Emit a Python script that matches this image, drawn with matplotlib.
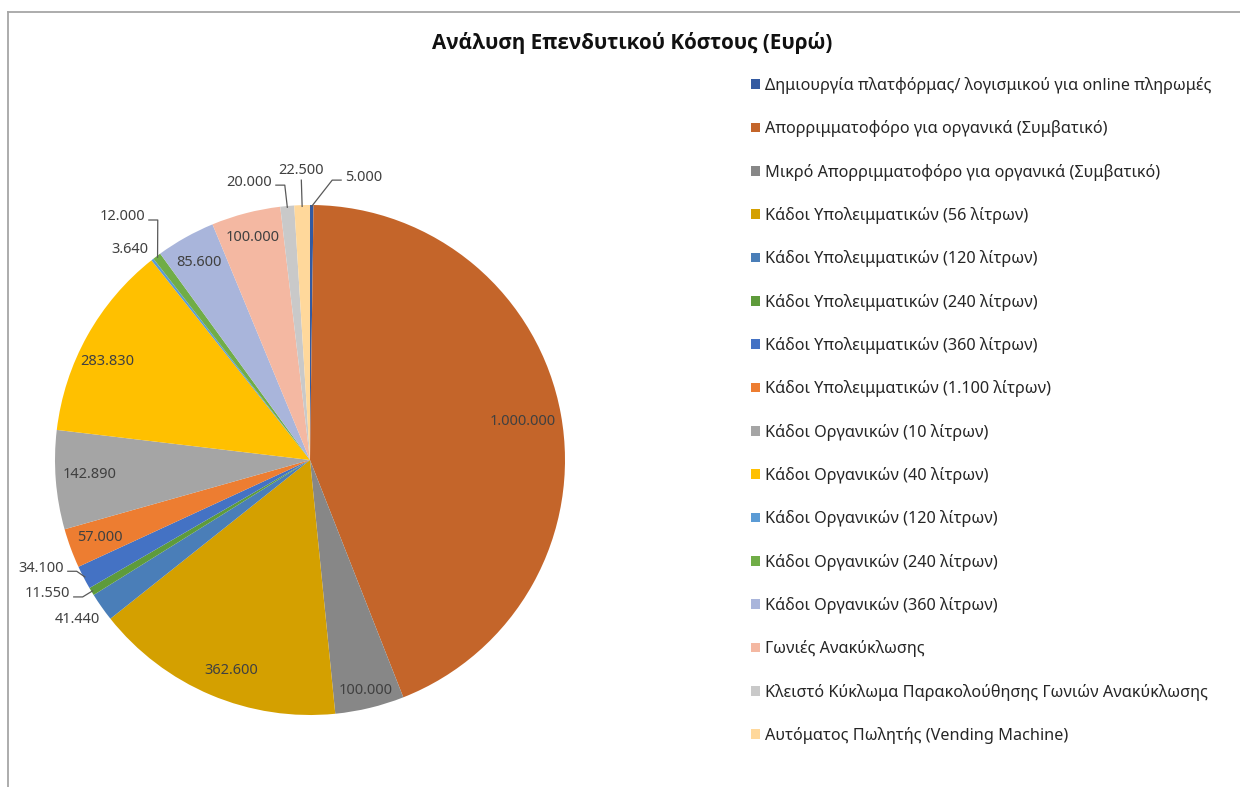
import matplotlib
matplotlib.use('Agg')
import matplotlib.pyplot as plt
import numpy as np
from matplotlib.lines import Line2D

plt.rcParams['font.family'] = ['Noto Sans', 'DejaVu Sans']

title = 'Ανάλυση Επενδυτικού Κόστους (Ευρώ)'

categories = [
    'Δημιουργία πλατφόρμας/ λογισμικού για online πληρωμές',
    'Απορριμματοφόρο για οργανικά (Συμβατικό)',
    'Μικρό Απορριμματοφόρο για οργανικά (Συμβατικό)',
    'Κάδοι Υπολειμματικών (56 λίτρων)',
    'Κάδοι Υπολειμματικών (120 λίτρων)',
    'Κάδοι Υπολειμματικών (240 λίτρων)',
    'Κάδοι Υπολειμματικών (360 λίτρων)',
    'Κάδοι Υπολειμματικών (1.100 λίτρων)',
    'Κάδοι Οργανικών (10 λίτρων)',
    'Κάδοι Οργανικών (40 λίτρων)',
    'Κάδοι Οργανικών (120 λίτρων)',
    'Κάδοι Οργανικών (240 λίτρων)',
    'Κάδοι Οργανικών (360 λίτρων)',
    'Γωνιές Ανακύκλωσης',
    'Κλειστό Κύκλωμα Παρακολούθησης Γωνιών Ανακύκλωσης',
    'Αυτόματος Πωλητής (Vending Machine)',
]

values = [5000, 1000000, 100000, 362600, 41440, 11550, 34100, 57000,
          142890, 283830, 3640, 12000, 85600, 100000, 20000, 22500]

colors = ['#335AA1', '#C4652A', '#878787', '#D4A000', '#4A7EB8', '#5E9B3B',
          '#4472C4', '#ED7D31', '#A5A5A5', '#FFC000', '#5B9BD5', '#70AD47',
          '#A9B5DB', '#F4B8A2', '#C9C9C9', '#FFD89B']

# label layout: (mode, radial distance, clockwise angle shift in degrees)
layout = [
    ('lead', 1.118, 6.65),
    ('in', 0.846, 0.0),
    ('in', 0.93, 0.0),
    ('in', 0.88, -2.5),
    ('out', 1.108, 0.8),
    ('lead', 1.078, 1.9),
    ('lead', 1.054, 3.7),
    ('in', 0.877, 0.0),
    ('in', 0.865, 0.6),
    ('in', 0.885, -3.2),
    ('out', 1.087, -2.3),
    ('lead', 1.152, 2.76),
    ('in', 0.888, 0.0),
    ('in', 0.90, 0.0),
    ('lead', 1.100, -2.65),
    ('vert', 1.098, 0.0),
]

W, H = 1240, 787
fig = plt.figure(figsize=(W / 100, H / 100), dpi=100)

# chart frame (top and left edges visible)
frame_col = '#A6A6A6'
fig.add_artist(Line2D([8 / W, 1.0], [1 - 12 / H, 1 - 12 / H], color=frame_col, lw=1.3,
                      transform=fig.transFigure))
fig.add_artist(Line2D([8 / W, 8 / W], [1 - 12 / H, 0.0], color=frame_col, lw=1.3,
                      transform=fig.transFigure))

fig.text(632 / W, 1 - 43 / H, title, ha='center', va='center', fontsize=14.9,
         fontweight='bold', color='#111111', family=['Open Sans', 'Liberation Sans', 'DejaVu Sans'])

ax = fig.add_axes([55 / W, 72 / H, 510 / W, 510 / H])
wedges, _ = ax.pie(values, colors=colors, startangle=90, counterclock=False,
                   radius=1.0, wedgeprops=dict(linewidth=0))
ax.set_xlim(-1, 1)
ax.set_ylim(-1, 1)
ax.set_aspect('equal')
ax.axis('off')

lab_col = '#404040'
line_col = '#595959'
fs = 10.5
for w, v, (mode, dist, dang) in zip(wedges, values, layout):
    mid = np.deg2rad((w.theta1 + w.theta2) / 2.0)
    ang = mid - np.deg2rad(dang)
    txt = f'{v:,}'.replace(',', '.')
    tx, ty = dist * np.cos(ang), dist * np.sin(ang)
    ex, ey = 0.995 * np.cos(mid), 0.995 * np.sin(mid)
    if mode in ('in', 'out'):
        ax.text(tx, ty, txt, ha='center', va='center', fontsize=fs, color=lab_col)
    elif mode == 'vert':
        ax.text(tx, ty + 0.01, txt, ha='center', va='bottom', fontsize=fs, color=lab_col)
        ax.add_line(Line2D([ex, tx], [ey, ty], color=line_col, lw=0.9, clip_on=False))
    else:
        side = 1 if tx >= 0 else -1
        gap, elb = 0.015, 0.035
        ha = 'left' if side > 0 else 'right'
        ax.text(tx, ty, txt, ha=ha, va='center', fontsize=fs, color=lab_col)
        x1 = tx - side * gap
        x2 = x1 - side * elb
        yl = ty - 0.012
        ax.add_line(Line2D([x1, x2, ex], [yl, yl, ey], color=line_col, lw=0.9,
                           clip_on=False))

leg = fig.legend(wedges, categories, loc='upper left',
                 bbox_to_anchor=(751 / W, 1 - 77 / H), frameon=False,
                 fontsize=11.7, handlelength=0.55, handleheight=0.55,
                 handletextpad=0.3, labelspacing=1.62, borderaxespad=0,
                 borderpad=0)
for t in leg.get_texts():
    t.set_color('#262626')

fig.savefig('out.png', dpi=100)
